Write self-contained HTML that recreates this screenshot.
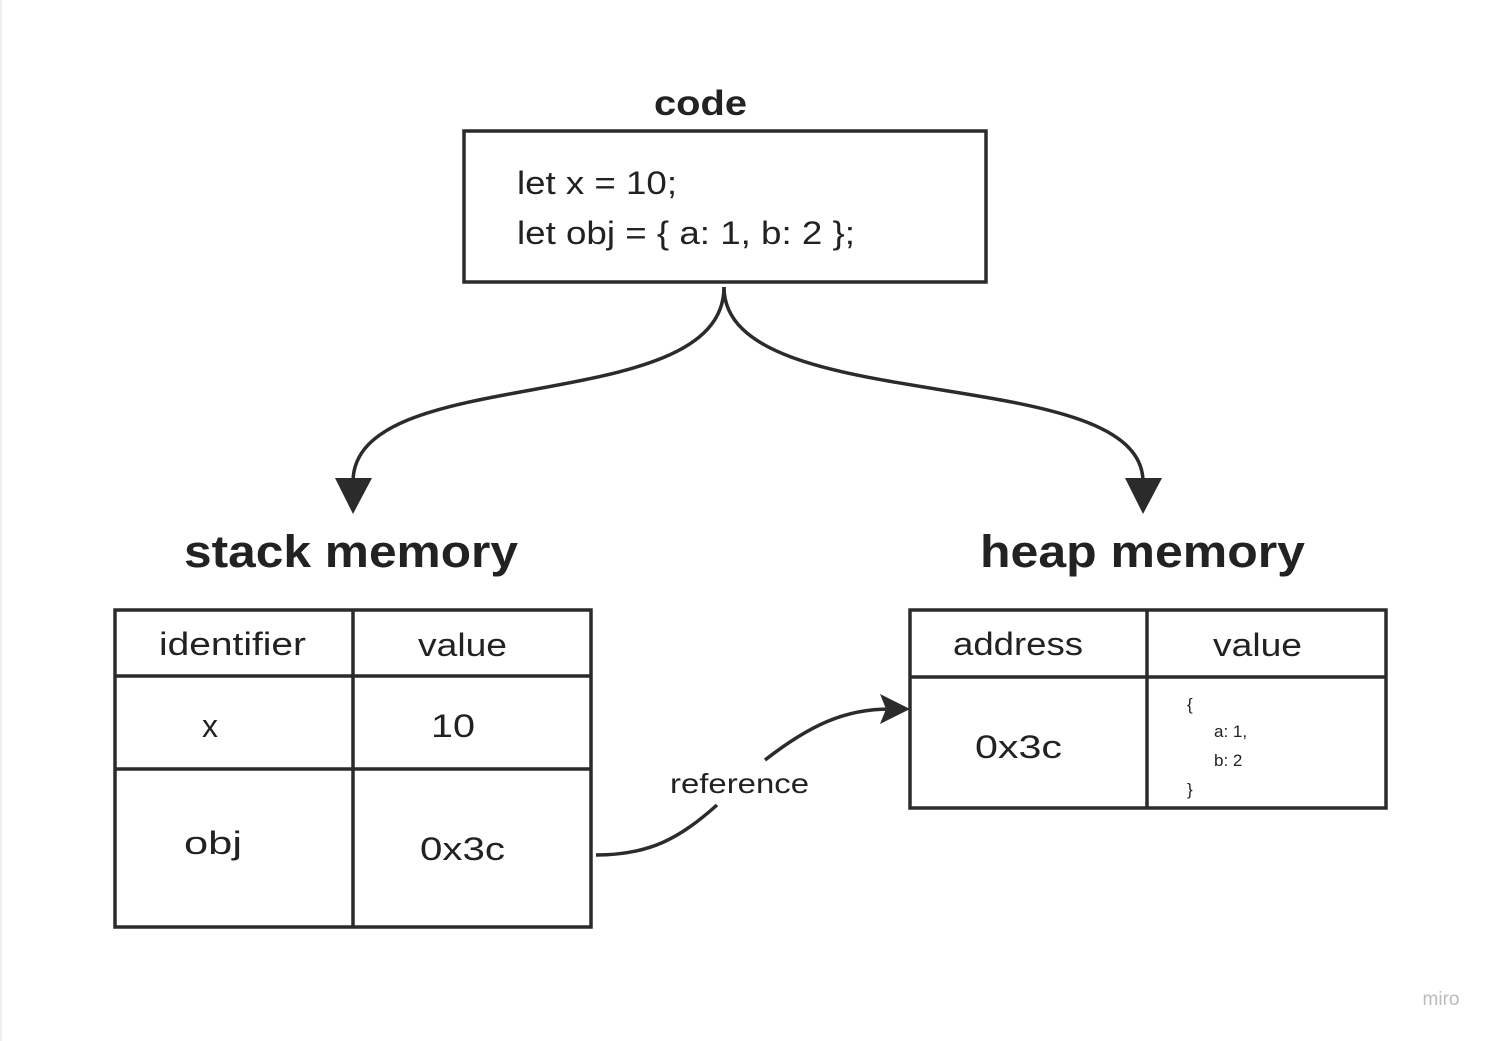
<!DOCTYPE html>
<html><head><meta charset="utf-8"><style>
html,body{margin:0;padding:0;background:#fff;}
svg{display:block;}
text{font-family:"Liberation Sans",sans-serif;fill:#222;}
</style></head><body>
<svg width="1499" height="1041" viewBox="0 0 1499 1041" xmlns="http://www.w3.org/2000/svg">
<rect x="0" y="0" width="1499" height="1041" fill="#fff"/>
<line x1="1" y1="0" x2="1" y2="1041" stroke="#eee" stroke-width="2"/>
<g stroke="#2b2b2b" stroke-width="3.5" fill="none">
<rect x="464" y="131" width="522" height="151"/>
<path d="M724,287 C724,420 353,360 353,482"/>
<path d="M724,287 C724,420 1143,360 1143,482"/>
<rect x="115" y="610" width="476" height="317"/>
<line x1="353" y1="610" x2="353" y2="927"/>
<line x1="115" y1="676" x2="591" y2="676"/>
<line x1="115" y1="769" x2="591" y2="769"/>
<rect x="910" y="610" width="476" height="198"/>
<line x1="1147" y1="610" x2="1147" y2="808"/>
<line x1="910" y1="677" x2="1386" y2="677"/>
<path d="M596,855 C650,855 680,838 717,805"/>
<path d="M765,760 C810,725 845,709 890,709"/>
</g>
<g fill="#2b2b2b">
<polygon points="335,478 372,478 353,514"/>
<polygon points="1125,478 1162,478 1143,514"/>
<polygon points="880,694 910,709 880,724 886,709"/>
</g>
<text x="654" y="115" font-size="35" font-weight="bold" textLength="93" lengthAdjust="spacingAndGlyphs">code</text>
<text x="517" y="194" font-size="32" textLength="160" lengthAdjust="spacingAndGlyphs">let x = 10;</text>
<text x="517" y="244" font-size="32" textLength="338" lengthAdjust="spacingAndGlyphs">let obj = { a: 1, b: 2 };</text>
<text x="184" y="567" font-size="45" font-weight="bold" textLength="334" lengthAdjust="spacingAndGlyphs">stack memory</text>
<text x="980" y="567" font-size="45" font-weight="bold" textLength="325" lengthAdjust="spacingAndGlyphs">heap memory</text>
<text x="159" y="655" font-size="32" textLength="147" lengthAdjust="spacingAndGlyphs">identifier</text>
<text x="418" y="656" font-size="32" textLength="89" lengthAdjust="spacingAndGlyphs">value</text>
<text x="210" y="737" font-size="32" text-anchor="middle">x</text>
<text x="431" y="737" font-size="32" textLength="44" lengthAdjust="spacingAndGlyphs">10</text>
<text x="184" y="854" font-size="32" textLength="58" lengthAdjust="spacingAndGlyphs">obj</text>
<text x="420" y="860" font-size="32" textLength="85" lengthAdjust="spacingAndGlyphs">0x3c</text>
<text x="953" y="655" font-size="32" textLength="130" lengthAdjust="spacingAndGlyphs">address</text>
<text x="1213" y="656" font-size="32" textLength="89" lengthAdjust="spacingAndGlyphs">value</text>
<text x="975" y="758" font-size="32" textLength="87" lengthAdjust="spacingAndGlyphs">0x3c</text>
<text x="1187" y="710" font-size="17">{</text>
<text x="1214" y="737" font-size="17">a: 1,</text>
<text x="1214" y="766" font-size="17">b: 2</text>
<text x="1187" y="795" font-size="17">}</text>
<text x="670" y="793" font-size="28" fill="#333" textLength="139" lengthAdjust="spacingAndGlyphs">reference</text>
<text x="1441" y="1005" font-size="19" text-anchor="middle" style="fill:#bbb">miro</text>
</svg>
</body></html>
